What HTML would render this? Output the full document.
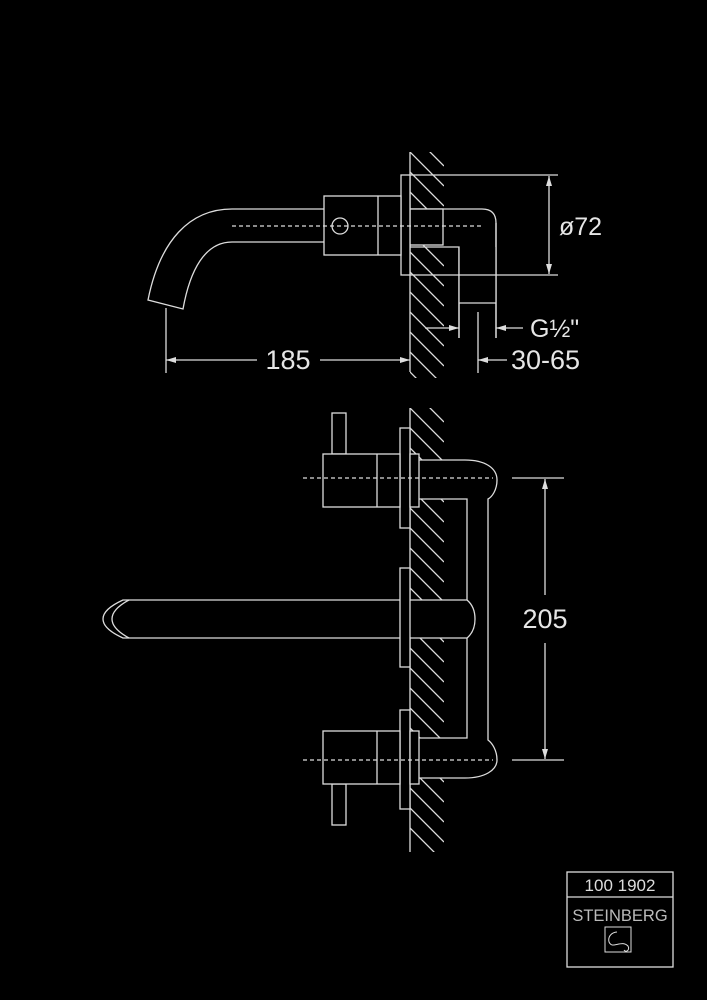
<!DOCTYPE html>
<html><head><meta charset="utf-8"><style>
html,body{margin:0;padding:0;background:#000;}
svg{display:block}
text{font-family:"Liberation Sans",sans-serif;fill:#e6e6e6}
</style></head><body>
<svg width="707" height="1000" viewBox="0 0 707 1000" xmlns="http://www.w3.org/2000/svg">
<defs>
<clipPath id="c1"><rect x="410" y="152" width="34" height="226"/></clipPath>
<clipPath id="c2"><rect x="410" y="408" width="34" height="444"/></clipPath>
<marker id="ar" viewBox="0 0 10 6" refX="10" refY="3" markerWidth="10" markerHeight="6" orient="auto-start-reverse" markerUnits="userSpaceOnUse"><path d="M0,0 L10,3 L0,6 z" fill="#ddd"/></marker>
</defs>
<rect width="707" height="1000" fill="#000"/>
<g stroke="#ddd" stroke-width="1.3" fill="none">
<!-- VIEW 1 hatch -->
<g clip-path="url(#c1)">
<path d="M410,132l34,34 M410,152l34,34 M410,172l34,34 M410,192l34,34 M410,212l34,34 M410,232l34,34 M410,252l34,34 M410,272l34,34 M410,292l34,34 M410,312l34,34 M410,332l34,34 M410,352l34,34 M410,372l34,34"/>
</g>
<line x1="410" y1="152" x2="410" y2="372"/>
<path d="M410,209 H482 Q496,209 496,223 V338" fill="#000"/>
<rect x="410" y="209" width="33" height="36" fill="#000"/>
<path d="M410,247 H459 V338" />
<rect x="459" y="247" width="37" height="56" fill="#000" stroke="none"/>
<path d="M459,247 V338 M496,223 V338 M459,303 H496"/>
<rect x="401" y="175" width="9" height="100" fill="#000"/>
<line x1="410" y1="175" x2="558" y2="175"/>
<line x1="410" y1="275" x2="558" y2="275"/>
<rect x="324" y="196" width="77" height="59" fill="#000"/>
<line x1="378" y1="196" x2="378" y2="255"/>
<circle cx="340" cy="226" r="8"/>
<path d="M324,209 H232 C190,209 160,240 148,300 L183,309 C190,270 205,242 232,242 H324"/>
<line x1="232" y1="226" x2="483" y2="226" stroke-dasharray="4,3"/>
<line x1="549" y1="176" x2="549" y2="274" marker-start="url(#ar)" marker-end="url(#ar)"/>
<line x1="166" y1="308" x2="166" y2="373"/>
<line x1="166" y1="360" x2="257" y2="360" marker-start="url(#ar)"/>
<line x1="320" y1="360" x2="410" y2="360" marker-end="url(#ar)"/>
<line x1="478" y1="312" x2="478" y2="373"/>
<line x1="507" y1="360" x2="478" y2="360" marker-end="url(#ar)"/>
<line x1="425" y1="328" x2="459" y2="328" marker-end="url(#ar)"/>
<line x1="523" y1="328" x2="496" y2="328" marker-end="url(#ar)"/>

<!-- VIEW 2 hatch -->
<g clip-path="url(#c2)">
<path d="M410,388l34,34 M410,408l34,34 M410,428l34,34 M410,448l34,34 M410,468l34,34 M410,488l34,34 M410,508l34,34 M410,528l34,34 M410,548l34,34 M410,568l34,34 M410,588l34,34 M410,608l34,34 M410,628l34,34 M410,648l34,34 M410,668l34,34 M410,688l34,34 M410,708l34,34 M410,728l34,34 M410,748l34,34 M410,768l34,34 M410,788l34,34 M410,808l34,34 M410,828l34,34"/>
</g>
<line x1="410" y1="408" x2="410" y2="852"/>
<rect x="419" y="460" width="50" height="39" fill="#000" stroke="none"/>
<rect x="419" y="738" width="50" height="40" fill="#000" stroke="none"/>
<path d="M419,460 H465 C485,460 497,468 497,480 C497,490 492,497 488,499 V740 C492,743 497,750 497,760 C497,770 485,778 465,778 H419"/>
<path d="M410,499 H467 V600 M467,638 V738 H410"/>
<path d="M123,600 H467 C473,605 475,612 475,619 C475,626 473,633 467,638 H123 C112,633 103,627 103,619 C103,611 112,605 123,600 Z" fill="#000"/>
<path d="M129,600 C118,606 112,612 112,619 C112,626 118,632 129,638"/>
<rect x="400" y="428" width="10" height="100" fill="#000"/>
<rect x="400" y="568" width="10" height="99" fill="#000"/>
<rect x="400" y="710" width="10" height="99" fill="#000"/>
<rect x="332" y="413" width="14" height="41" fill="#000"/>
<rect x="323" y="454" width="77" height="53" fill="#000"/>
<line x1="377" y1="454" x2="377" y2="507"/>
<rect x="410" y="454" width="9" height="53" fill="#000"/>
<line x1="303" y1="478" x2="493" y2="478" stroke-dasharray="4,3"/>
<rect x="332" y="784" width="14" height="41" fill="#000"/>
<rect x="323" y="731" width="77" height="53" fill="#000"/>
<line x1="377" y1="731" x2="377" y2="784"/>
<rect x="410" y="731" width="9" height="53" fill="#000"/>
<line x1="303" y1="760" x2="493" y2="760" stroke-dasharray="4,3"/>
<line x1="512" y1="478" x2="564" y2="478"/>
<line x1="512" y1="760" x2="564" y2="760"/>
<line x1="545" y1="595" x2="545" y2="479" marker-end="url(#ar)"/>
<line x1="545" y1="643" x2="545" y2="759" marker-end="url(#ar)"/>
<rect x="567" y="872" width="106" height="95"/>
<line x1="567" y1="897" x2="673" y2="897"/>
<rect x="605" y="927" width="26" height="25" stroke-width="1"/>
<path d="M617,932 C606,933 607,946 614,945 C620,944 624,942 628,946 C630,950 626,953 624,950" stroke-width="1"/>
</g>
<g font-size="25">
<text x="559" y="235">ø72</text>
<text x="530" y="337">G½"</text>
</g>
<g font-size="27">
<text x="288" y="369" text-anchor="middle">185</text>
<text x="511" y="369">30-65</text>
<text x="545" y="628" text-anchor="middle">205</text>
</g>
<text x="620" y="891" font-size="17" text-anchor="middle" style="fill:#ddd">100 1902</text>
<text x="620" y="921" font-size="16.5" text-anchor="middle" style="fill:#bbb">STEINBERG</text>
</svg>
</body></html>
